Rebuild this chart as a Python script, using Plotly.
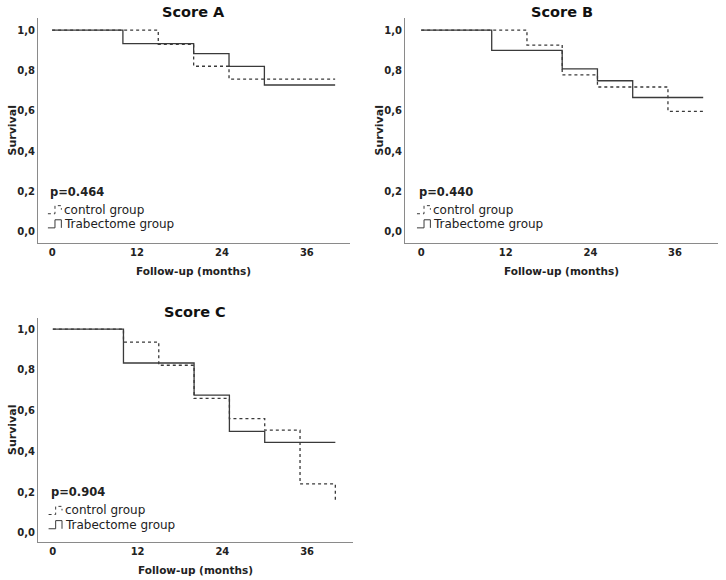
import plotly.graph_objects as go

W, H = 726, 580

# Kaplan-Meier estimates (months, survival)
a_ctrl_t = [0, 15, 20, 25, 40]
a_ctrl_s = [1.0, 0.929, 0.821, 0.757, 0.757]
a_trab_t = [0, 10, 20, 25, 30, 40]
a_trab_s = [1.0, 0.933, 0.883, 0.82, 0.728, 0.728]

b_ctrl_t = [0, 15, 20, 25, 35, 40]
b_ctrl_s = [1.0, 0.926, 0.778, 0.718, 0.597, 0.597]
b_trab_t = [0, 10, 20, 25, 30, 40]
b_trab_s = [1.0, 0.9, 0.808, 0.749, 0.666, 0.666]

c_ctrl_t = [0, 10, 15, 20, 25, 30, 35, 40]
c_ctrl_s = [1.0, 0.937, 0.823, 0.66, 0.561, 0.504, 0.24, 0.151]
c_trab_t = [0, 10, 20, 25, 30, 40]
c_trab_s = [1.0, 0.834, 0.676, 0.498, 0.444, 0.444]

titles = ["Score A", "Score B", "Score C"]
p_values = ["p=0.464", "p=0.440", "p=0.904"]
group_names = ["control group", "Trabectome group"]
x_ticks = [0, 12, 24, 36]
y_ticks = [0, 0.2, 0.4, 0.6, 0.8, 1.0]
y_ticktext = ["0,0", "0,2", "0,4", "0,6", "0,8", "1,0"]

FONT = "DejaVu Sans"
LINE = "#3a3a3a"
AXIS = "#8a8a8a"

# panel boxes in pixels: left, right, top, bottom, x range, y range
panels = [
    (38, 350, 18, 243, [-2, 42.1], [-0.055, 1.06]),
    (405, 718, 18, 243, [-2.3, 42.1], [-0.055, 1.06]),
    (38, 353, 318, 542, [-2.1, 42.5], [-0.045, 1.055]),
]
series = [
    (a_ctrl_t, a_ctrl_s, a_trab_t, a_trab_s),
    (b_ctrl_t, b_ctrl_s, b_trab_t, b_trab_s),
    (c_ctrl_t, c_ctrl_s, c_trab_t, c_trab_s),
]

fig = go.Figure()
layout = {}
annotations = []
shapes = []

for i, ((l, r, t, b, xr, yr), (ct, cs, tt, ts)) in enumerate(zip(panels, series)):
    sx = "" if i == 0 else str(i + 1)
    xa, ya = "x" + sx, "y" + sx
    fig.add_trace(go.Scatter(x=ct, y=cs, mode="lines", line_shape="hv",
                             line=dict(color=LINE, width=1.3, dash="dot"),
                             name=group_names[0], xaxis=xa, yaxis=ya))
    fig.add_trace(go.Scatter(x=tt, y=ts, mode="lines", line_shape="hv",
                             line=dict(color=LINE, width=1.3),
                             name=group_names[1], xaxis=xa, yaxis=ya))

    layout["xaxis" + sx] = dict(
        domain=[l / W, r / W], range=xr, anchor=ya, tickvals=x_ticks,
        showgrid=False, zeroline=False, showline=True, linecolor=AXIS,
        linewidth=1, ticks="", automargin=False,
        tickfont=dict(family=FONT, size=10, color="#222", weight="bold"),
    )
    layout["yaxis" + sx] = dict(
        domain=[1 - b / H, 1 - t / H], range=yr, anchor=xa, tickvals=y_ticks,
        ticktext=y_ticktext, showgrid=False, zeroline=False, showline=True,
        linecolor=AXIS, linewidth=1, ticks="", automargin=False,
        tickfont=dict(family=FONT, size=10, color="#222", weight="bold"),
    )

    cx = (l + r) / 2 / W
    annotations.append(dict(text="<b>" + titles[i] + "</b>", xref="paper", yref="paper",
                            x=cx, y=1 - (t - 6) / H, xanchor="center", yanchor="middle",
                            showarrow=False, font=dict(family=FONT, size=14.5, color="#111")))
    annotations.append(dict(text="<b>Follow-up (months)</b>", xref="paper", yref="paper",
                            x=cx, y=1 - (b + 28) / H, xanchor="center", yanchor="middle",
                            showarrow=False, font=dict(family=FONT, size=10.5, color="#222")))
    annotations.append(dict(text="<b>Survival</b>", xref="paper", yref="paper",
                            x=(l - 26) / W, y=1 - (t + b) / 2 / H, textangle=-90,
                            xanchor="center", yanchor="middle", showarrow=False,
                            font=dict(family=FONT, size=11, color="#222")))

    # p-value and legend text
    annotations.append(dict(text="<b>" + p_values[i] + "</b>", xref=xa, yref=ya,
                            x=-0.6, y=0.2, xanchor="left", yanchor="middle", showarrow=False,
                            font=dict(family=FONT, size=11.5, color="#222")))
    annotations.append(dict(text=group_names[0], xref=xa, yref=ya, x=1.4, y=0.11,
                            xanchor="left", yanchor="middle", showarrow=False,
                            font=dict(family=FONT, size=12, color="#222")))
    annotations.append(dict(text=group_names[1], xref=xa, yref=ya, x=1.4, y=0.04,
                            xanchor="left", yanchor="middle", showarrow=False,
                            font=dict(family=FONT, size=12, color="#222")))

    # small step glyphs standing in for the legend keys
    shapes.append(dict(type="path", xref=xa, yref=ya,
                       path="M -0.6,0.09 L 0.4,0.09 L 0.4,0.13 L 1.3,0.13 L 1.3,0.11",
                       line=dict(color=LINE, width=1, dash="dot")))
    shapes.append(dict(type="path", xref=xa, yref=ya,
                       path="M -0.6,0.02 L 0.4,0.02 L 0.4,0.06 L 1.3,0.06 L 1.3,0.02",
                       line=dict(color=LINE, width=1)))

fig.update_layout(
    width=W, height=H, margin=dict(l=0, r=0, t=0, b=0),
    paper_bgcolor="white", plot_bgcolor="white", showlegend=False,
    annotations=annotations, shapes=shapes, **layout,
)

# the page's default body margin would push the figure 8px in
fig.write_html("out.html", config={"displayModeBar": False},
               post_script="document.body.style.margin='0';document.body.style.overflow='hidden';")
